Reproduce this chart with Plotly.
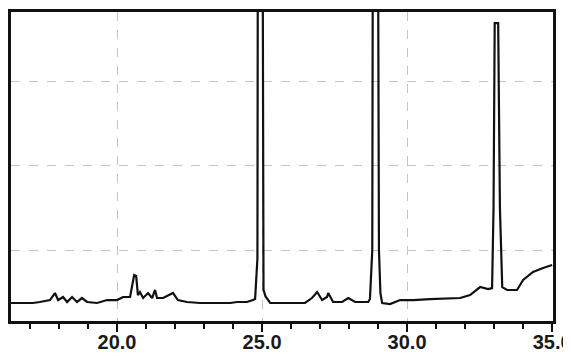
import plotly.graph_objects as go

# Retention time (min) and detector response (arbitrary units)
time_min = [16.31, 16.66, 17.10, 17.34, 17.69, 17.86, 17.97, 18.14, 18.28, 18.45,
            18.62, 18.79, 18.97, 19.31, 19.66, 20.00, 20.21, 20.45, 20.59, 20.66,
            20.72, 20.79, 20.90, 21.07, 21.21, 21.31, 21.38, 21.59, 21.93, 22.10,
            22.41, 22.86, 23.90, 24.14, 24.48, 24.69,
            24.76, 24.84, 24.87, 24.99, 25.05, 25.12, 25.28,
            26.48, 26.72, 26.90, 27.07, 27.24, 27.28, 27.45, 27.76, 27.97, 28.21, 28.66,
            28.72, 28.80, 28.84, 28.96, 29.03, 29.08, 29.14,
            29.41, 29.76, 30.21, 30.79, 31.83, 32.17, 32.52, 32.79,
            32.93, 32.98, 33.02, 33.14, 33.20, 33.28,
            33.45, 33.79, 34.00, 34.34, 34.69, 35.00]
response = [0.373, 0.373, 0.373, 0.385, 0.408, 0.491, 0.408, 0.444, 0.385, 0.444,
            0.385, 0.432, 0.385, 0.373, 0.408, 0.408, 0.444, 0.444, 0.704, 0.692,
            0.467, 0.503, 0.432, 0.491, 0.432, 0.527, 0.432, 0.432, 0.491, 0.408,
            0.385, 0.373, 0.373, 0.385, 0.385, 0.408,
            0.42, 0.9, 9.0, 9.0, 0.53, 0.45, 0.373,
            0.373, 0.432, 0.503, 0.408, 0.444, 0.491, 0.385, 0.385, 0.432, 0.385, 0.385,
            0.42, 1.0, 9.0, 9.0, 1.0, 0.49, 0.373,
            0.361, 0.408, 0.408, 0.420, 0.432, 0.467, 0.562, 0.538,
            0.55, 1.5, 3.686, 3.686, 1.5, 0.56,
            0.527, 0.527, 0.645, 0.740, 0.787, 0.822]

x_ticks = [20, 25, 30, 35]
x_tick_labels = ["20.0", "25.0", "30.0", "35.0"]
y_grid = [1, 2, 3]

fig = go.Figure()
fig.add_trace(go.Scatter(x=time_min, y=response, mode="lines",
                         line=dict(color="#111111", width=2.2), showlegend=False,
                         hoverinfo="skip"))

fig.update_layout(
    width=563, height=345,
    margin=dict(l=3, r=18, t=4, b=32, autoexpand=False),
    paper_bgcolor="white", plot_bgcolor="white",
    font=dict(family="Liberation Sans, Arial, sans-serif", color="#1a1a1a"),
)
fig.update_xaxes(
    range=[16.345, 35.03],
    tickvals=x_ticks, ticktext=x_tick_labels,
    tickfont=dict(size=20, family="Liberation Sans, Arial, sans-serif", weight="bold"),
    ticks="outside", ticklen=8, tickwidth=2, tickcolor="#111111",
    ticklabelstandoff=-7, ticklabeloverflow="allow",
    minor=dict(dtick=1, tick0=20, ticks="outside", ticklen=5, tickwidth=2,
               tickcolor="#111111", showgrid=False),
    showline=True, linecolor="#111111", linewidth=3, mirror=True,
    showgrid=True, gridcolor="#c4c4c4", griddash="dash", gridwidth=1,
    zeroline=False, automargin=False,
)
fig.update_yaxes(
    range=[0.160, 3.817],
    tickvals=y_grid, showticklabels=False, ticks="",
    showline=True, linecolor="#111111", linewidth=3, mirror=True,
    showgrid=True, gridcolor="#c4c4c4", griddash="dash", gridwidth=1,
    zeroline=False, automargin=False,
)

fig.write_html("out.html")
